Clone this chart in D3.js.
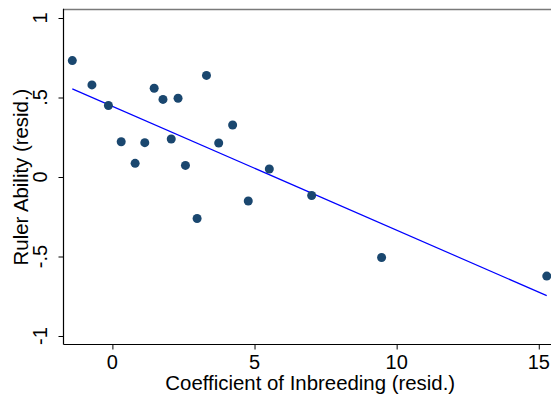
<!DOCTYPE html>
<html>
<head>
<meta charset="utf-8">
<script src="https://cdn.jsdelivr.net/npm/d3@7"></script>
<style>
	body { margin: 0; background: #fff; }
	svg text { font-family: "Liberation Sans", Arial, sans-serif; fill: #000; }
</style>
</head>
<body>
<svg id="chart" width="551" height="394"></svg>
<script>
// inbreeding residuals (x) and ruler ability residuals (y)
var inbreeding = [-1.41, -0.72, -0.14, 0.31, 0.80, 1.14, 1.47, 1.78, 2.07, 2.31,
	2.57, 2.98, 3.31, 3.74, 4.23, 4.78, 5.52, 7.01, 9.47, 15.28];
var ability = [0.732, 0.579, 0.450, 0.222, 0.086, 0.216, 0.558, 0.488, 0.239, 0.495,
	0.073, -0.261, 0.639, 0.214, 0.327, -0.151, 0.050, -0.116, -0.506, -0.623];

var xTicks = [0, 5, 10, 15];
var xTickLabels = ['0', '5', '10', '15'];
var yTicks = [-1, -0.5, 0, 0.5, 1];
var yTickLabels = ['-1', '-.5', '0', '.5', '1'];

var xTitle = 'Coefficient of Inbreeding (resid.)';
var yTitle = 'Ruler Ability (resid.)';

var svg = d3.select('#chart');

var plotLeft = 63.5, plotRight = 551, plotTop = 9.5, plotBottom = 344.5;

var x = d3.scaleLinear().domain([-1.72, 15.43]).range([plotLeft, plotRight]);
var y = d3.scaleLinear().domain([-1, 1]).range([336, 18]);

//frame lines
svg.append('line')
	.attr('x1', plotLeft).attr('x2', plotRight).attr('y1', plotTop).attr('y2', plotTop)
	.attr('stroke', '#7a7a7a').attr('stroke-width', 1.6);
svg.append('line')
	.attr('x1', plotLeft).attr('x2', plotLeft).attr('y1', plotTop - 0.8).attr('y2', plotBottom)
	.attr('stroke', '#000').attr('stroke-width', 1.2);
svg.append('line')
	.attr('x1', plotLeft).attr('x2', plotRight).attr('y1', plotBottom).attr('y2', plotBottom)
	.attr('stroke', '#000').attr('stroke-width', 1.2);

//ticks via d3 axes
svg.append('g')
	.attr('transform', 'translate(0,' + plotBottom + ')')
	.call(d3.axisBottom(x).tickValues(xTicks).tickSize(5).tickFormat(''));
svg.append('g')
	.attr('transform', 'translate(' + plotLeft + ',0)')
	.call(d3.axisLeft(y).tickValues(yTicks).tickSize(5).tickFormat(''));
svg.selectAll('.domain').remove();
svg.selectAll('.tick line').attr('stroke', '#000').attr('stroke-width', 1);

//tick labels
svg.append('g').selectAll('text')
	.data(xTicks)
	.enter().append('text')
	.attr('x', function(d) { return x(d); })
	.attr('y', 368.5)
	.attr('text-anchor', 'middle')
	.style('font-size', '20px')
	.text(function(d, i) { return xTickLabels[i]; });

svg.append('g').selectAll('text')
	.data(yTicks)
	.enter().append('text')
	.attr('transform', function(d) { return 'translate(47,' + y(d) + ') rotate(-90)'; })
	.attr('text-anchor', 'middle')
	.style('font-size', '20px')
	.text(function(d, i) { return yTickLabels[i]; });

//axis titles
svg.append('text')
	.attr('x', (plotLeft + plotRight) / 2 + 3)
	.attr('y', 389.5)
	.attr('text-anchor', 'middle')
	.style('font-size', '20.4px')
	.text(xTitle);
svg.append('text')
	.attr('transform', 'translate(28,' + ((plotTop + plotBottom) / 2) + ') rotate(-90)')
	.attr('text-anchor', 'middle')
	.style('font-size', '20.4px')
	.text(yTitle);

//least squares fit
var mx = d3.mean(inbreeding), my = d3.mean(ability);
var sxy = d3.sum(inbreeding, function(v, i) { return (v - mx) * (ability[i] - my); });
var sxx = d3.sum(inbreeding, function(v) { return (v - mx) * (v - mx); });
var slope = sxy / sxx, intercept = my - slope * mx;
var ends = d3.extent(inbreeding);

svg.append('path')
	.datum(ends)
	.attr('d', d3.line()
		.x(function(d) { return x(d); })
		.y(function(d) { return y(intercept + slope * d); }))
	.attr('fill', 'none')
	.attr('stroke', '#0000ff')
	.attr('stroke-width', 1.2);

//points
svg.append('g').selectAll('circle')
	.data(inbreeding)
	.enter().append('circle')
	.attr('cx', function(d) { return x(d); })
	.attr('cy', function(d, i) { return y(ability[i]); })
	.attr('r', 4.5)
	.attr('fill', '#1a476f');
</script>
</body>
</html>
